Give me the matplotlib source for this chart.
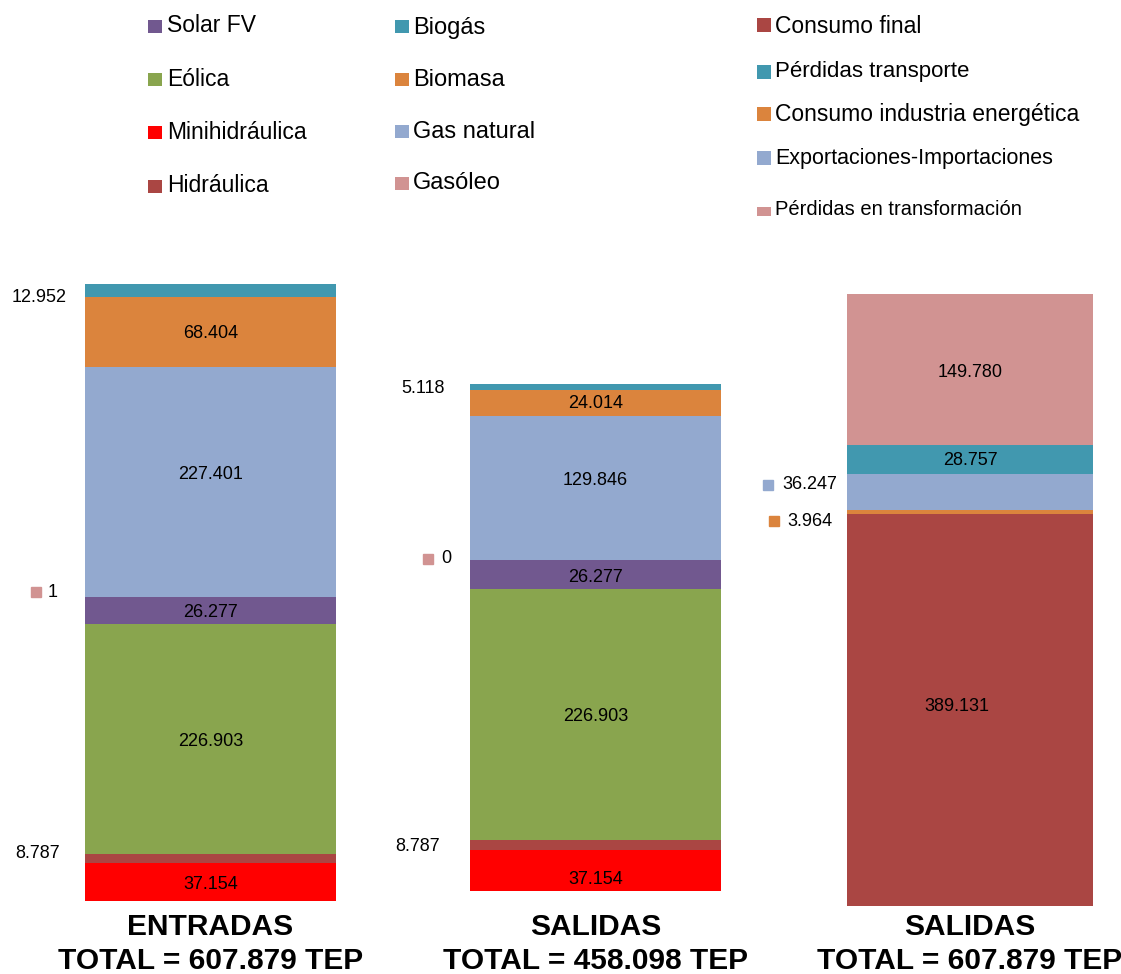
import matplotlib
matplotlib.use('Agg')
import matplotlib.pyplot as plt
from matplotlib.patches import Rectangle
from matplotlib.transforms import offset_copy

plt.rcParams['font.family'] = ['Liberation Sans', 'DejaVu Sans']

# ---------------- data ----------------
fuentes_labels = ['Minihidráulica', 'Hidráulica', 'Eólica', 'Solar FV', 'Gasóleo',
                  'Gas natural', 'Biomasa', 'Biogás']
entradas_values = [37154, 8787, 226903, 26277, 1, 227401, 68404, 12952]
salidas_fuentes_values = [37154, 8787, 226903, 26277, 0, 129846, 24014, 5118]

destinos_labels = ['Consumo final', 'Consumo industria energética',
                   'Exportaciones-Importaciones', 'Pérdidas transporte',
                   'Pérdidas en transformación']
destinos_values = [389131, 3964, 36247, 28757, 149780]

titles = [('ENTRADAS', 'TOTAL = 607.879 TEP'),
          ('SALIDAS', 'TOTAL = 458.098 TEP'),
          ('SALIDAS', 'TOTAL = 607.879 TEP')]

legend_col1 = ['Solar FV', 'Eólica', 'Minihidráulica', 'Hidráulica']
legend_col2 = ['Biogás', 'Biomasa', 'Gas natural', 'Gasóleo']
legend_col3 = ['Consumo final', 'Pérdidas transporte', 'Consumo industria energética',
               'Exportaciones-Importaciones', 'Pérdidas en transformación']

colors = {
    'Solar FV': '#71588F', 'Eólica': '#89A54E', 'Minihidráulica': '#FF0000',
    'Hidráulica': '#AA4643', 'Biogás': '#4198AF', 'Biomasa': '#DB843D',
    'Gas natural': '#93A9CF', 'Gasóleo': '#D19392',
    'Consumo final': '#AA4643', 'Pérdidas transporte': '#4198AF',
    'Consumo industria energética': '#DB843D',
    'Exportaciones-Importaciones': '#93A9CF',
    'Pérdidas en transformación': '#D19392',
}

# ---------------- figure ----------------
W, H = 1121, 974
fig = plt.figure(figsize=(W / 100, H / 100), dpi=100)


def px_axes(left, top, right, bottom):
    return fig.add_axes([left / W, 1 - bottom / H, (right - left) / W, (bottom - top) / H])


def fmt(v):
    return f"{v:,}".replace(',', '.')


def draw(ax, labels, values, outside, inside_off):
    bottom = 0
    for lab, v in zip(labels, values):
        ax.bar(0, v, bottom=bottom, width=1, color=colors[lab], linewidth=0)
        c = bottom + v / 2
        if lab in outside:
            tdx, dy, mdx = outside[lab]
            tr = offset_copy(ax.transData, fig=fig, x=tdx, y=dy, units='dots')
            ha = 'right' if mdx is None else 'left'
            ax.text(-0.5, c, fmt(v), transform=tr, ha=ha, va='center',
                    fontsize=13, clip_on=False)
            if mdx is not None:
                trm = offset_copy(ax.transData, fig=fig, x=mdx, y=dy, units='dots')
                ax.plot([-0.5], [c], marker='s', ms=7, color=colors[lab],
                        transform=trm, clip_on=False, linestyle='none')
        else:
            dx, dy = inside_off.get(lab, (0, -2))
            tr = offset_copy(ax.transData, fig=fig, x=dx, y=dy, units='dots')
            ax.text(0, c, fmt(v), transform=tr, ha='center', va='center', fontsize=13)
        bottom += v
    ax.set_xlim(-0.5, 0.5)
    ax.set_ylim(0, bottom)
    ax.axis('off')


ax1 = px_axes(85, 284, 336, 901)
ax2 = px_axes(470, 384, 721, 891)
ax3 = px_axes(847, 294, 1093, 906)

draw(ax1, fuentes_labels, entradas_values,
     {'Biogás': (-18, -7, None), 'Gasóleo': (-37, 5, -49), 'Hidráulica': (-25, 5, None)},
     {'Gas natural': (0, 7)})
draw(ax2, fuentes_labels, salidas_fuentes_values,
     {'Biogás': (-25, -2, None), 'Gasóleo': (-29, 1, -42.5), 'Hidráulica': (-30, -1, None)},
     {'Gas natural': (0, 8), 'Minihidráulica': (0, -9), 'Biomasa': (0, -1),
      'Solar FV': (0, -3)})
draw(ax3, destinos_labels, destinos_values,
     {'Exportaciones-Importaciones': (-65, 7, -79),
      'Consumo industria energética': (-60, -9, -73)},
     {'Consumo final': (-13, 4), 'Pérdidas en transformación': (0, -3),
      'Pérdidas transporte': (0, -1)})

# titles below bars
for ax, (l1, l2) in zip([ax1, ax2, ax3], titles):
    p = ax.get_position()
    xc = p.x0 + p.width / 2
    fig.text(xc, 1 - 927 / H, l1, ha='center', va='center', fontsize=21.5, fontweight='bold')
    fig.text(xc, 1 - 961 / H, l2, ha='center', va='center', fontsize=21.5, fontweight='bold')


# legends (manual layout)
def legend_col(labels, mx, mw, mcenters, mh, tx, baselines, sizes):
    for lab, mc, h, bl, fs in zip(labels, mcenters, mh, baselines, sizes):
        fig.add_artist(Rectangle((mx / W, 1 - (mc + h / 2) / H), mw / W, h / H,
                                 transform=fig.transFigure, color=colors[lab], lw=0))
        fig.text(tx / W, 1 - bl / H, lab, ha='left', va='baseline', fontsize=fs)


legend_col(legend_col1, 148, 14, [26, 79, 132, 186], [13] * 4, 167,
           [31.5, 85.5, 139, 192], [16.5] * 4)
legend_col(legend_col2, 395, 14, [26.5, 79.5, 131.5, 183.5], [13] * 4, 413,
           [34.3, 86, 137.7, 189.3], [17] * 4)
legend_col(legend_col3, 757, 14, [25, 72, 114, 158, 211], [14, 14, 14, 14, 9], 775,
           [32.7, 76.7, 121, 164, 215], [16.5, 16, 16.5, 15.5, 14.5])

fig.savefig('out.png', dpi=100)
